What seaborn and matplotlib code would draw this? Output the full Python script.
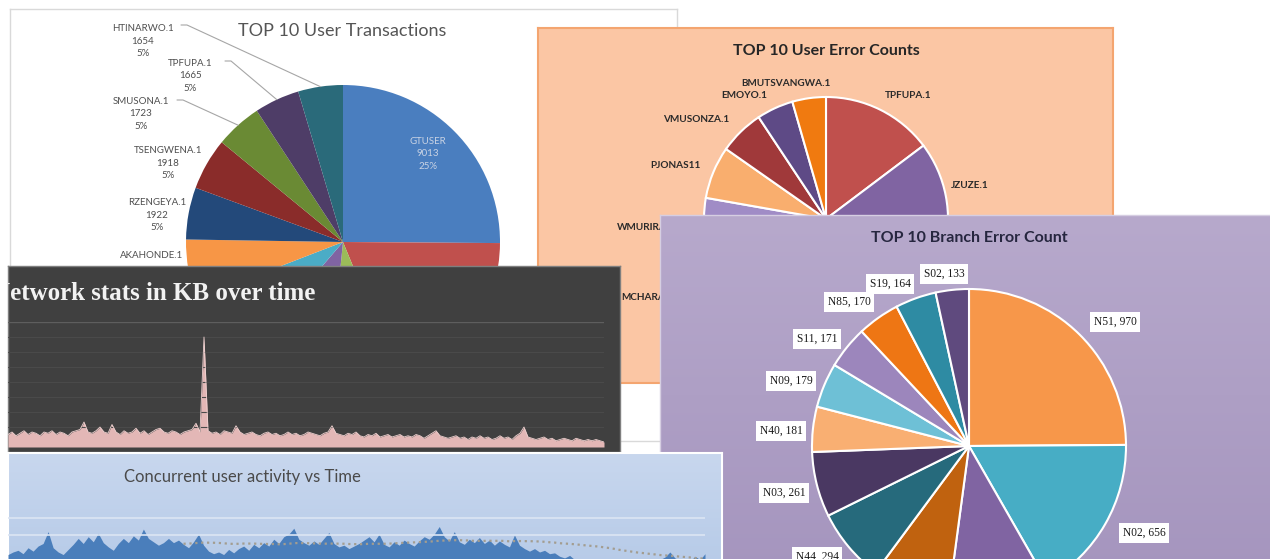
import numpy as np
import pandas as pd
import matplotlib
matplotlib.use("Agg")
import matplotlib.pyplot as plt
import seaborn as sns
from matplotlib.colors import LinearSegmentedColormap

# ---------------- data ----------------
tx_users = ["GTUSER", "USER02", "USER03", "USER04", "USER05", "AKAHONDE.1",
            "RZENGEYA.1", "TSENGWENA.1", "SMUSONA.1", "TPFUPA.1", "HTINARWO.1"]
tx_counts = [9013, 6700, 2800, 3500, 2800, 2200, 1922, 1918, 1723, 1665, 1654]

err_users = ["TPFUPA.1", "JZUZE.1", "USER03", "USER04", "MCHARA.1", "WMURIRA.1",
             "PJONAS11", "VMUSONZA.1", "EMOYO.1", "BMUTSVANGWA.1"]
err_counts = [318, 312, 300, 270, 252, 228, 150, 129, 105, 96]

branches = ["N51", "N02", "N60", "N20", "N44", "N03", "N40", "N09", "S11", "N85", "S19", "S02"]
branch_errors = [970, 656, 405, 313, 294, 261, 181, 179, 171, 170, 164, 133]

network_kb = [10, 12, 9, 11, 13, 10, 12, 11, 9, 12,
              11, 13, 10, 12, 11, 9, 12, 13, 14, 20,
              12, 11, 13, 16, 12, 11, 18, 12, 10, 13,
              11, 12, 15, 11, 13, 10, 12, 14, 15, 12,
              11, 13, 12, 10, 12, 13, 14, 19, 12, 88,
              13, 11, 12, 10, 13, 12, 11, 17, 12, 10,
              11, 12, 10, 9, 11, 12, 10, 11, 9, 10,
              12, 10, 11, 9, 10, 12, 11, 10, 9, 11,
              12, 17, 11, 10, 9, 11, 10, 12, 9, 8,
              10, 9, 11, 8, 9, 10, 8, 9, 10, 8,
              9, 8, 10, 9, 7, 9, 11, 13, 9, 8,
              7, 8, 9, 7, 8, 6, 8, 7, 9, 7,
              8, 6, 7, 9, 7, 8, 6, 9, 11, 16,
              8, 7, 6, 7, 8, 6, 7, 5, 6, 7,
              6, 5, 7, 6, 5, 6, 5, 6, 5, 4]

concurrent_users = [37, 40, 42, 38, 45, 41, 47, 50, 64, 45,
                    40, 37, 43, 49, 56, 50, 58, 52, 62, 51,
                    46, 42, 50, 56, 51, 59, 54, 67, 56, 52,
                    48, 51, 56, 51, 54, 49, 45, 52, 61, 48,
                    41, 38, 40, 37, 43, 39, 44, 47, 42, 49,
                    45, 51, 47, 55, 50, 58, 61, 68, 55, 51,
                    48, 53, 49, 56, 63, 50, 46, 48, 44, 47,
                    50, 54, 58, 52, 61, 49, 46, 52, 48, 54,
                    50, 47, 53, 58, 55, 61, 70, 58, 53, 64,
                    52, 49, 55, 51, 57, 50, 54, 48, 53, 49,
                    46, 60, 48, 44, 41, 44, 40, 42, 38, 39,
                    35, 33, 36, 31, 29, 32, 30, 28, 31, 27,
                    28, 25, 29, 27, 24, 28, 26, 30, 27, 29,
                    31, 34, 40, 33, 30, 32, 29, 35, 31, 38]

# ---------------- styles ----------------
tx_colors = ["#4A7EBF", "#C0504D", "#9BBB59", "#8064A2", "#4BACC6", "#F79646",
             "#23497A", "#8A2C2A", "#6A8A34", "#4E3D67", "#2A6A7A"]
err_colors = ["#C0504D", "#8064A2", "#4BACC6", "#F79646", "#9BBB59", "#A08CC6",
              "#F9AE6E", "#A0393A", "#5E4A86", "#F07A10"]
branch_colors = ["#F7974A", "#47ADC5", "#8064A2", "#C0620F", "#266A7C", "#4A3862",
                 "#F9AF72", "#6EC0D6", "#9C86BC", "#EE7614", "#2E8BA3", "#5F4A7E"]

W, H = 1270, 559
sns.set_theme(style="white")
plt.rcParams["font.family"] = ["Lato", "DejaVu Sans"]
fig = plt.figure(figsize=(W / 100, H / 100), dpi=100)
fig.patch.set_facecolor("white")


def Y(py):
    return H - py


def panel(x, y, w, h, z, face="white", edge="#D9D9D9", lw=1.0, grad=None):
    ax = fig.add_axes([x / W, 1 - (y + h) / H, w / W, h / H])
    ax.set_zorder(z)
    ax.set_facecolor(face)
    if grad is not None:
        cmap = LinearSegmentedColormap.from_list("g", grad)
        ax.imshow(np.linspace(0, 1, 256)[:, None], cmap=cmap, aspect="auto",
                  extent=(x, x + w, H - y - h, H - y), zorder=0)
    ax.set_xlim(x, x + w)
    ax.set_ylim(H - y - h, H - y)
    ax.set_xticks([])
    ax.set_yticks([])
    for s in ax.spines.values():
        s.set_color(edge)
        s.set_linewidth(lw)
    return ax


def fix(ax, x, y, w, h):
    ax.set_xlim(x, x + w)
    ax.set_ylim(H - y - h, H - y)
    ax.set_aspect("auto")
    ax.set_xticks([])
    ax.set_yticks([])
    ax.set_frame_on(True)


# ---------------- Panel A: TOP 10 User Transactions ----------------
A = (10, 9, 667, 432)
axA = panel(*A, z=1, face="white", edge="#D9D9D9")
cA, rA = (343, Y(242)), 157
wA, _ = axA.pie(tx_counts, colors=tx_colors, startangle=90, counterclock=False,
                center=cA, radius=rA, frame=True, wedgeprops=dict(linewidth=0))
fix(axA, *A)
axA.text(342, Y(31), "TOP 10 User Transactions", fontsize=13, color="#555555",
         ha="center", va="center")
tx_label_pos = {"GTUSER": (428, 154), "RZENGEYA.1": (157, 215),
                "TSENGWENA.1": (168, 163), "SMUSONA.1": (141, 114), "TPFUPA.1": (190, 76),
                "HTINARWO.1": (143, 41)}
tx_name_only = {"AKAHONDE.1": (152, 256)}
tx_leader_start = {"HTINARWO.1": (181, 25), "TPFUPA.1": (225, 61), "SMUSONA.1": (177, 100)}
totA = sum(tx_counts)
for name, cnt, wd in zip(tx_users, tx_counts, wA):
    if name in tx_name_only:
        lx, ly = tx_name_only[name]
        axA.text(lx, Y(ly), name, ha="center", va="center", fontsize=7, color="#4F4F4F")
    if name not in tx_label_pos:
        continue
    lx, ly = tx_label_pos[name]
    col = "#C9D3E4" if name == "GTUSER" else "#4F4F4F"
    axA.text(lx, Y(ly), f"{name}\n{cnt}\n{round(100 * cnt / totA)}%", ha="center",
             va="center", fontsize=7, color=col, linespacing=1.55)
    if name in tx_leader_start:
        sx, sy = tx_leader_start[name]
        mid = np.deg2rad((wd.theta1 + wd.theta2) / 2)
        axA.plot([sx, sx + 6, cA[0] + rA * np.cos(mid)], [Y(sy), Y(sy), cA[1] + rA * np.sin(mid)],
                 color="#A6A6A6", lw=0.8)

# ---------------- Panel B: TOP 10 User Error Counts ----------------
B = (538, 28, 575, 355)
axB = panel(*B, z=3, face="#FBC6A4", edge="#F4A570", lw=1.5)
cB, rB = (826, Y(219)), 122
wB, _ = axB.pie(err_counts, colors=err_colors, startangle=90, counterclock=False,
                center=cB, radius=rB, frame=True,
                wedgeprops=dict(edgecolor="white", linewidth=1.5))
fix(axB, *B)
axB.text(826, Y(51), "TOP 10 User Error Counts", fontsize=11.5, color="#262626",
         ha="center", va="center", weight="bold")
err_label_pos = {"TPFUPA.1": (908, 96, "center"), "JZUZE.1": (970, 185, "center"),
                 "MCHARA.1": (621, 297, "left"), "WMURIRA.1": (617, 228, "left"),
                 "PJONAS11": (675, 166, "center"), "VMUSONZA.1": (696, 119, "center"),
                 "EMOYO.1": (744, 95, "center"), "BMUTSVANGWA.1": (786, 83, "center")}
for name in err_users:
    if name in err_label_pos:
        lx, ly, ha = err_label_pos[name]
        axB.text(lx, Y(ly), name, ha=ha, va="center", fontsize=7.2, color="#2A2A2A",
                 weight="bold")

# ---------------- Panel D: Network stats ----------------
D = (8, 266, 612, 186)
axD = panel(*D, z=5, face="#404040", edge="#7F7F7F")
axD.text(-8, Y(293), "Network stats in KB over time", fontsize=18, weight="bold",
         family=["Liberation Serif", "DejaVu Serif"], color="#F2F2F2",
         ha="left", va="center", clip_on=True)
axDp = fig.add_axes([8 / W, 1 - 447 / H, 596 / W, 125 / H])
axDp.set_zorder(6)
axDp.patch.set_visible(False)
idxD = np.arange(len(network_kb))
for i, g in enumerate([100, 88, 76, 64, 52, 40, 28, 16]):
    axDp.axhline(g, color="#5E5E5E" if i == 0 else "#4A4A4A", lw=1.0 if i == 0 else 0.8)
axDp.fill_between(idxD, network_kb, 0, color="#E3B7B6", lw=0)
sns.lineplot(x=idxD, y=network_kb, ax=axDp, color="#F0D2D1", lw=0.6)
axDp.set_xlim(0, len(network_kb) - 1)
axDp.set_ylim(0, 100)
axDp.set_axis_off()

# ---------------- Panel C: TOP 10 Branch Error Count ----------------
C = (660, 215, 620, 360)
axC = panel(*C, z=7, face="#AE9FC5", edge="#D6CEE2", grad=["#B7A9CC", "#A595BE"])
cC, rC = (969, Y(446)), 157
wC, tC = axC.pie(branch_errors, colors=branch_colors, startangle=90, counterclock=False,
                 center=cC, radius=rC, frame=True,
                 labels=[f"{b}, {v}" for b, v in zip(branches, branch_errors)],
                 labeldistance=1.2,
                 textprops=dict(fontsize=8.3, color="#1A1A1A",
                                family=["Liberation Serif", "DejaVu Serif"]),
                 wedgeprops=dict(edgecolor="white", linewidth=1.5))
branch_label_pos = {"N51": (1115, 322), "N02": (1144, 533), "N44": (817, 557),
                    "N03": (784, 493), "N40": (781, 431), "N09": (791, 381),
                    "S11": (817, 339), "N85": (849, 302), "S19": (890, 284), "S02": (944, 274)}
for b, t in zip(branches, tC):
    t.set_ha("center")
    t.set_va("center")
    t.set_bbox(dict(facecolor="white", edgecolor="none", pad=2.6))
    if b in branch_label_pos:
        px, py = branch_label_pos[b]
        t.set_position((px, Y(py)))
    else:
        t.set_visible(False)  # these labels fall below the visible area
fix(axC, *C)
axC.text(969, Y(238), "TOP 10 Branch Error Count", fontsize=11.5, color="#26263F",
         ha="center", va="center", weight="bold")

# ---------------- Panel E: Concurrent user activity ----------------
E = (8, 453, 714, 130)
axE = panel(*E, z=9, face="#BFD0EA", edge="#FFFFFF", lw=1.5, grad=["#C8D7EE", "#B4C9E7"])
axE.text(242, Y(477), "Concurrent user activity vs Time", fontsize=12,
         family=["Liberation Sans Narrow", "Lato", "DejaVu Sans"], color="#4A4A4A",
         ha="center", va="center")
axEp = fig.add_axes([8 / W, 1 - 586 / H, 697 / W, 85 / H])
axEp.set_zorder(10)
axEp.patch.set_visible(False)
idxE = np.arange(len(concurrent_users))
for g in [60, 80]:
    axEp.axhline(g, color="#DCE5F3", lw=1.2)
axEp.fill_between(idxE, concurrent_users, 0, color="#4A7EBB", lw=0)
trend = pd.Series(concurrent_users).rolling(36).mean()
sns.lineplot(x=idxE, y=trend.values, ax=axEp, color="#A39D90", lw=1.6, linestyle=":")
axEp.set_xlim(0, len(concurrent_users) - 1)
axEp.set_ylim(0, 100)
axEp.set_axis_off()

fig.savefig("out.png", dpi=100)
